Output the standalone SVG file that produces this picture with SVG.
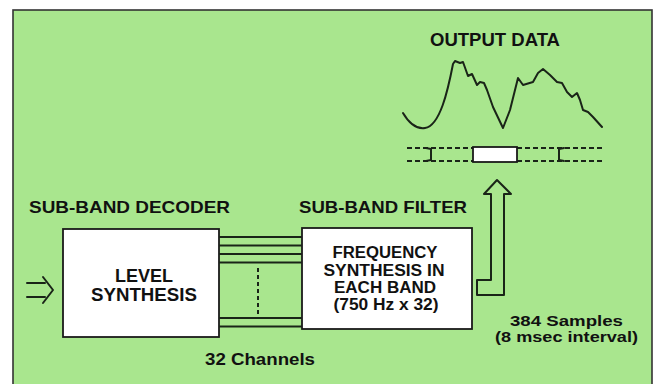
<svg xmlns="http://www.w3.org/2000/svg" width="663" height="384" viewBox="0 0 663 384">
<style>
.t{font-family:"Liberation Sans",Arial,Helvetica,sans-serif;font-weight:bold;fill:#111;}
.h{font-size:16.5px;}
.b{font-size:17.5px;text-anchor:middle;}
.c{font-size:16px;text-anchor:middle;}
.box{fill:#fff;stroke:#1a1a1a;stroke-width:1.8;}
.ln{fill:none;stroke:#1a2418;stroke-width:2;stroke-linecap:round;stroke-linejoin:round;}
.dash{fill:none;stroke:#1a2418;stroke-width:2;stroke-dasharray:5 3;}
</style>
<rect x="0" y="0" width="663" height="384" fill="#ffffff"/>
<rect id="panel" x="13" y="10" width="639" height="390" fill="#a9e68e" stroke="#333" stroke-width="1.6"/>

<g id="output-data">
<text class="t" x="430" y="46" font-size="17.5" textLength="130" lengthAdjust="spacingAndGlyphs">OUTPUT DATA</text>
<path class="ln" d="M403,113 C410,125 418,129 425,128 C440,126 448,90 453,64 L455,61 L460,63 L463,62 L468,76 L472,74 L477,85 L480,82 L484,83 L487,90 L493,107 L503,128 L510,110 L518,78 L523,85 L533,82 L538,73 L543,69 L550,75 L557,82 L562,83 L567,92 L572,97 L577,93 L580,100 L583,110 L588,112 L593,117 L602,127"/>
<line class="dash" x1="407" y1="148" x2="473" y2="148"/>
<line class="dash" x1="407" y1="161" x2="473" y2="161"/>
<line class="dash" x1="517" y1="148" x2="602" y2="148"/>
<line class="dash" x1="517" y1="161" x2="602" y2="161"/>
<path class="ln" d="M426,148 L431,149 L431,160 L426,161" stroke-width="1.6"/>
<path class="ln" d="M564,148 L559,149 L559,160 L564,161" stroke-width="1.6"/>
<rect x="473" y="147" width="44" height="15" fill="#fff" stroke="#1a1a1a" stroke-width="1.8"/>
</g>

<g id="sub-band-decoder">
<text class="t h" x="29" y="213" textLength="201" lengthAdjust="spacingAndGlyphs">SUB-BAND DECODER</text>
<rect class="box" x="63" y="229" width="156" height="108"/>
<text class="t b" x="144" y="282" textLength="58" lengthAdjust="spacingAndGlyphs">LEVEL</text>
<text class="t b" x="144" y="301" textLength="106" lengthAdjust="spacingAndGlyphs">SYNTHESIS</text>
</g>

<g id="sub-band-filter">
<text class="t h" x="299" y="213" textLength="168" lengthAdjust="spacingAndGlyphs">SUB-BAND FILTER</text>
<rect class="box" x="302" y="228" width="170" height="101"/>
<text class="t c" x="385" y="258" textLength="105" lengthAdjust="spacingAndGlyphs">FREQUENCY</text>
<text class="t c" x="384" y="276" textLength="121" lengthAdjust="spacingAndGlyphs">SYNTHESIS IN</text>
<text class="t c" x="385" y="293" textLength="102" lengthAdjust="spacingAndGlyphs">EACH BAND</text>
<text class="t c" x="386" y="310" textLength="105" lengthAdjust="spacingAndGlyphs">(750 Hz x 32)</text>
</g>

<g id="labels">
<text class="t h" x="205" y="365" textLength="110" lengthAdjust="spacingAndGlyphs">32 Channels</text>
<text class="t" font-size="15.5" x="510" y="326" textLength="113" lengthAdjust="spacingAndGlyphs">384 Samples</text>
<text class="t" font-size="15.5" x="495" y="342" textLength="143" lengthAdjust="spacingAndGlyphs">(8 msec interval)</text>
</g>

<g id="connectors">
<g class="ln">
<line x1="27" y1="283" x2="45" y2="283"/>
<line x1="27" y1="297" x2="45" y2="297"/>
<path d="M43,277 L53,290 L43,303"/>
</g>
<g stroke="#1a2418" stroke-width="2">
<line x1="219" y1="237" x2="302" y2="237"/>
<line x1="219" y1="245.5" x2="302" y2="245.5"/>
<line x1="219" y1="254" x2="302" y2="254"/>
<line x1="219" y1="262.5" x2="302" y2="262.5"/>
<line x1="219" y1="318" x2="302" y2="318"/>
<line x1="219" y1="326.5" x2="302" y2="326.5"/>
</g>
<line x1="258" y1="268" x2="258" y2="315" stroke="#1a2418" stroke-width="2" stroke-dasharray="4 3"/>
<path class="ln" d="M477,295 L504,295 L504,194 L511,194 L497,180 L484,194 L491,194 L491,280 L477,280 Z"/>
</g>
</svg>
